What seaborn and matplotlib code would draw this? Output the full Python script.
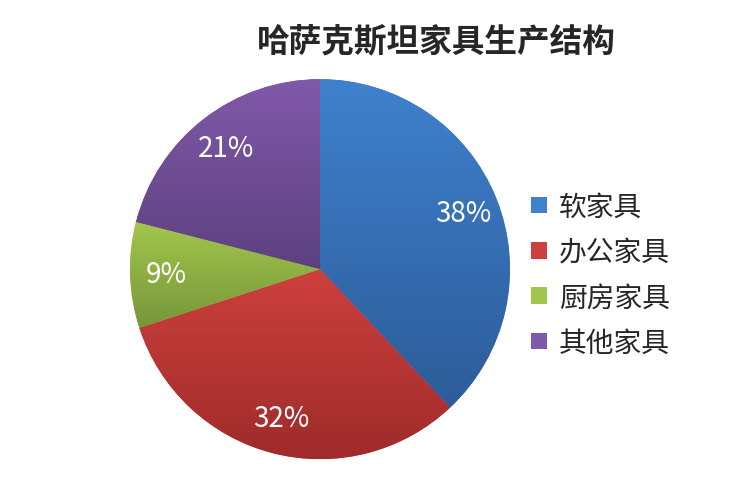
import matplotlib
matplotlib.use("Agg")
import matplotlib.pyplot as plt
import numpy as np
import seaborn as sns
from matplotlib.colors import LinearSegmentedColormap

# Data
categories = ["软家具", "办公家具", "厨房家具", "其他家具"]
shares = [38, 32, 9, 21]
title = "哈萨克斯坦家具生产结构"

# Gradient colours per slice (top, bottom)
top_colors = ["#3F81CE", "#CD403D", "#A2C64C", "#8059AA"]
bottom_colors = ["#2D5C98", "#9E2B2A", "#76963A", "#5D417E"]

sns.set_theme(style="white")
plt.rcParams["font.family"] = ["Noto Sans CJK SC", "DejaVu Sans"]

fig = plt.figure(figsize=(7.34, 4.89), dpi=100)
ax = fig.add_axes([0.177, 0.059, 0.518, 0.777])

palette = sns.color_palette(top_colors)
wedges, texts, autotexts = ax.pie(
    shares, colors=palette, startangle=90, counterclock=False,
    autopct="%d%%", pctdistance=0.81, radius=1.0,
    wedgeprops=dict(linewidth=0),
    textprops=dict(color="white", fontsize=20),
)

# Vertical gradient inside each wedge
for w, c_top, c_bot in zip(wedges, top_colors, bottom_colors):
    v = w.get_path().vertices
    x0, x1 = v[:, 0].min(), v[:, 0].max()
    y0, y1 = v[:, 1].min(), v[:, 1].max()
    cmap = LinearSegmentedColormap.from_list("g", [c_bot, c_top])
    grad = np.linspace(1, 0, 256).reshape(-1, 1)
    im = ax.imshow(grad, cmap=cmap, extent=(x0, x1, y0, y1), aspect="auto",
                   origin="upper", zorder=w.get_zorder() + 0.1, interpolation="bicubic")
    im.set_clip_path(w)

for t in autotexts:
    t.set_zorder(10)

ax.set_xlim(-1.0, 1.0)
ax.set_ylim(-1.0, 1.0)
ax.set_aspect("equal")
ax.axis("off")

fig.text(0.594, 0.915, title, ha="center", va="center", fontsize=23.5, fontweight="bold")

fig.legend(wedges, categories, loc="center left", bbox_to_anchor=(0.724, 0.436),
           frameon=False, fontsize=20, handlelength=0.55, handleheight=0.55,
           handletextpad=0.45, labelspacing=0.55, borderpad=0, borderaxespad=0)

fig.savefig("out.png", dpi=100)
